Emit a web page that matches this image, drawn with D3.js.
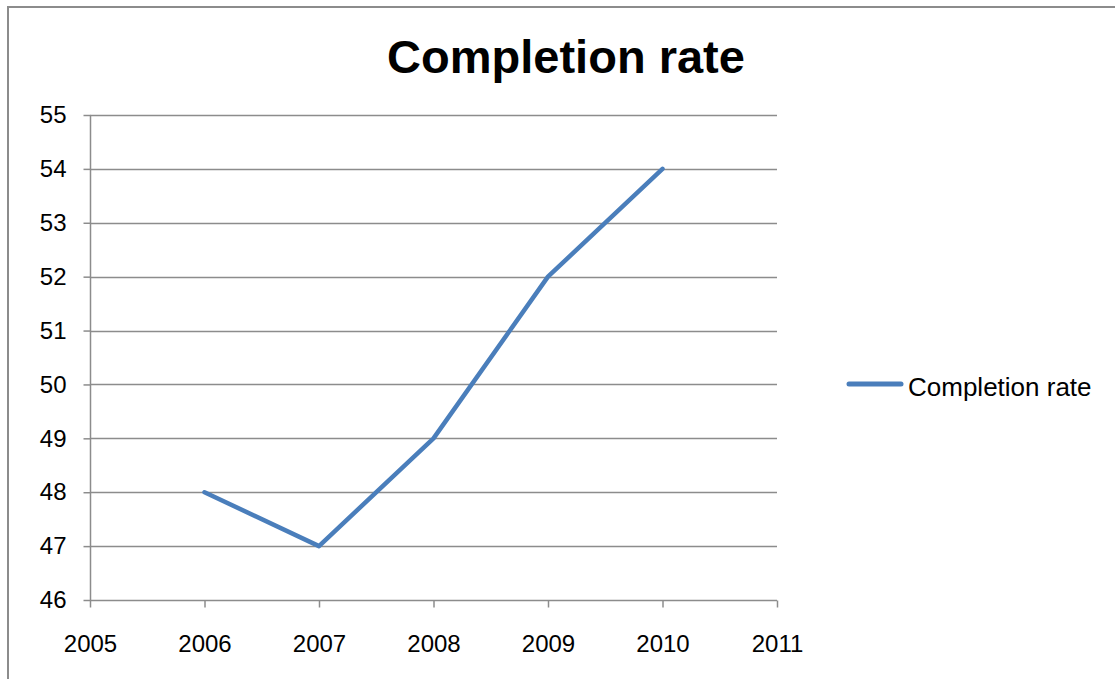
<!DOCTYPE html>
<html>
<head>
<meta charset="utf-8">
<script src="https://cdn.jsdelivr.net/npm/d3@7"></script>
<style>
  html, body { margin: 0; padding: 0; background: #fff; }
  svg { display: block; font-family: "Liberation Sans", Arial, sans-serif; }
</style>
</head>
<body>
<svg id="chart" width="1115" height="679"></svg>
<script>
const years = [2006, 2007, 2008, 2009, 2010];
const completionRate = [48, 47, 49, 52, 54];
const xTicks = [2005, 2006, 2007, 2008, 2009, 2010, 2011];
const yTicks = [46, 47, 48, 49, 50, 51, 52, 53, 54, 55];
const seriesName = "Completion rate";
const chartTitle = "Completion rate";

const svg = d3.select("#chart");
const plot = { left: 90, right: 777, top: 115, bottom: 600 };
const gridColor = "#8c8c8c";
const lineColor = "#4a7ebb";
const fontFamily = "Liberation Sans, Arial, sans-serif";

// outer chart frame (extends past the right and bottom edges)
svg.append("rect")
  .attr("x", 8).attr("y", 7)
  .attr("width", 1120).attr("height", 690)
  .attr("fill", "#fff")
  .attr("stroke", gridColor).attr("stroke-width", 2);

const x = d3.scaleLinear().domain([2005, 2011]).range([plot.left, plot.right]);
const y = d3.scaleLinear().domain([46, 55]).range([plot.bottom, plot.top]);

// horizontal gridlines
svg.append("g")
  .selectAll("line")
  .data(yTicks.filter(t => t !== 46))
  .join("line")
  .attr("x1", plot.left).attr("x2", plot.right)
  .attr("y1", d => Math.round(y(d)) + 0.5).attr("y2", d => Math.round(y(d)) + 0.5)
  .attr("stroke", gridColor).attr("stroke-width", 1.5);

// y axis
const yAxis = svg.append("g")
  .attr("transform", `translate(${plot.left + 0.5},0)`)
  .call(d3.axisLeft(y).tickValues(yTicks).tickSize(7).tickPadding(17).tickFormat(d3.format("d")));
yAxis.select(".domain").attr("stroke", gridColor).attr("stroke-width", 1.5).attr("d", `M0,${plot.top}V${plot.bottom}`);
yAxis.selectAll(".tick line").attr("stroke", gridColor).attr("stroke-width", 1.5);
yAxis.selectAll(".tick text").attr("font-size", 24).attr("fill", "#000").attr("font-family", fontFamily);

// x axis
const xAxis = svg.append("g")
  .attr("transform", `translate(0,${plot.bottom + 0.5})`)
  .call(d3.axisBottom(x).tickValues(xTicks).tickSize(7).tickPadding(27).tickFormat(d3.format("d")));
xAxis.select(".domain").attr("stroke", gridColor).attr("stroke-width", 1.5).attr("d", `M${plot.left},0H${plot.right}`);
xAxis.selectAll(".tick line").attr("stroke", gridColor).attr("stroke-width", 1.5);
xAxis.selectAll(".tick text").attr("font-size", 24).attr("fill", "#000").attr("font-family", fontFamily);

// series line
const line = d3.line().x((d, i) => x(years[i])).y(d => y(d));
svg.append("path")
  .datum(completionRate)
  .attr("d", line)
  .attr("fill", "none")
  .attr("stroke", lineColor)
  .attr("stroke-width", 4.5)
  .attr("stroke-linejoin", "round")
  .attr("stroke-linecap", "round");

// title
svg.append("text")
  .attr("x", 566).attr("y", 73)
  .attr("text-anchor", "middle")
  .attr("font-family", fontFamily)
  .attr("font-size", 47).attr("font-weight", "bold")
  .text(chartTitle);

// legend
const legend = svg.append("g").attr("transform", "translate(849,384)");
legend.append("line")
  .attr("x1", 0).attr("x2", 52)
  .attr("stroke", lineColor).attr("stroke-width", 5).attr("stroke-linecap", "round");
legend.append("text")
  .attr("x", 59).attr("y", 12)
  .attr("font-family", fontFamily)
  .attr("font-size", 26)
  .text(seriesName);
</script>
</body>
</html>
